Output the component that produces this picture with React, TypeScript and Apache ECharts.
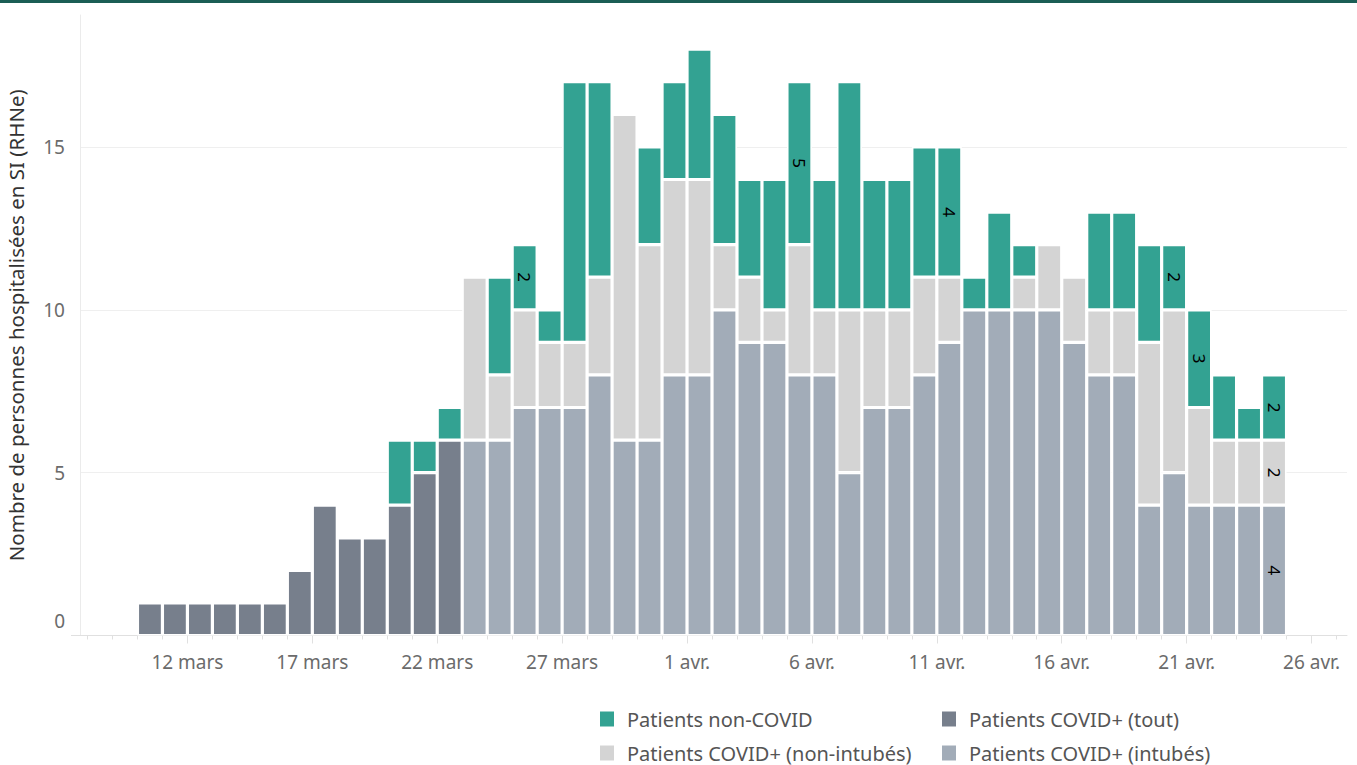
import React, { useEffect, useRef } from "react";
import * as echarts from "echarts";

// ---- Data ----
const dates = [
  "2020-03-10", "2020-03-11", "2020-03-12", "2020-03-13", "2020-03-14", "2020-03-15",
  "2020-03-16", "2020-03-17", "2020-03-18", "2020-03-19", "2020-03-20", "2020-03-21",
  "2020-03-22", "2020-03-23", "2020-03-24", "2020-03-25", "2020-03-26", "2020-03-27",
  "2020-03-28", "2020-03-29", "2020-03-30", "2020-03-31", "2020-04-01", "2020-04-02",
  "2020-04-03", "2020-04-04", "2020-04-05", "2020-04-06", "2020-04-07", "2020-04-08",
  "2020-04-09", "2020-04-10", "2020-04-11", "2020-04-12", "2020-04-13", "2020-04-14",
  "2020-04-15", "2020-04-16", "2020-04-17", "2020-04-18", "2020-04-19", "2020-04-20",
  "2020-04-21", "2020-04-22", "2020-04-23", "2020-04-24",
];

const covidTout = [
  1, 1, 1, 1, 1, 1, 2, 4, 3, 3, 4, 5, 6,
  0, 0, 0, 0, 0, 0, 0, 0, 0, 0, 0, 0, 0, 0, 0, 0, 0, 0, 0, 0,
  0, 0, 0, 0, 0, 0, 0, 0, 0, 0, 0, 0, 0,
];

const covidIntubes = [
  0, 0, 0, 0, 0, 0, 0, 0, 0, 0, 0, 0, 0,
  6, 6, 7, 7, 7, 8, 6, 6, 8, 8, 10, 9, 9, 8, 8, 5, 7, 7, 8, 9,
  10, 10, 10, 10, 9, 8, 8, 4, 5, 4, 4, 4, 4,
];

const covidNonIntubes = [
  0, 0, 0, 0, 0, 0, 0, 0, 0, 0, 0, 0, 0,
  5, 2, 3, 2, 2, 3, 10, 6, 6, 6, 2, 2, 1, 4, 2, 5, 3, 3, 3, 2,
  0, 0, 1, 2, 2, 2, 2, 5, 5, 3, 2, 2, 2,
];

const nonCovid = [
  0, 0, 0, 0, 0, 0, 0, 0, 0, 0, 2, 1, 1,
  0, 3, 2, 1, 8, 6, 0, 3, 3, 4, 4, 3, 4, 5, 4, 7, 4, 4, 4, 4,
  1, 3, 1, 0, 0, 3, 3, 3, 2, 3, 2, 1, 2,
];

// bars whose value is printed
const labelledNonCovid = ["2020-03-25", "2020-04-05", "2020-04-11", "2020-04-20", "2020-04-21", "2020-04-24"];
const labelledNonIntubes = ["2020-04-24"];
const labelledIntubes = ["2020-04-24"];

const tickDates = [
  "2020-03-12", "2020-03-17", "2020-03-22", "2020-03-27", "2020-04-01",
  "2020-04-06", "2020-04-11", "2020-04-16", "2020-04-21", "2020-04-26",
];
const tickLabels = [
  "12 mars", "17 mars", "22 mars", "27 mars", "1 avr.",
  "6 avr.", "11 avr.", "16 avr.", "21 avr.", "26 avr.",
];

const seriesNames = {
  nonCovid: "Patients non-COVID",
  tout: "Patients COVID+ (tout)",
  nonInt: "Patients COVID+ (non-intubés)",
  int: "Patients COVID+ (intubés)",
};

const colors = {
  nonCovid: "#33a292",
  tout: "#777f8c",
  nonInt: "#d4d4d4",
  int: "#a2acb8",
};

// ---- helpers ----
const ORIGIN = Date.UTC(2020, 2, 2);
function dayNum(s: string): number {
  const [y, m, d] = s.split("-").map(Number);
  return Math.round((Date.UTC(y, m - 1, d) - ORIGIN) / 86400000);
}

const FONT = "'Noto Sans', sans-serif";

function buildData(values: number[], labelled: string[]) {
  return values.map((v, i) => {
    if (!v) return { value: 0, itemStyle: { opacity: 0 }, label: { show: false } };
    const item: any = { value: v };
    if (labelled.indexOf(dates[i]) >= 0) item.label = { show: true };
    return item;
  });
}

export default function App() {
  const ref = useRef<HTMLDivElement>(null);

  useEffect(() => {
    document.body.style.margin = "0";
    if (!ref.current) return;
    const chart = echarts.init(ref.current, undefined, { renderer: "svg" });

    const X_MIN = 5.7;
    const X_MAX = 56.42;
    const G_LEFT = 80;
    const G_RIGHT = 10;
    const G_TOP = 15;
    const G_BOTTOM = 129.5;
    const Y_MAX = 19.05;
    const plotW = 1357 - G_LEFT - G_RIGHT;
    const pxPerDay = plotW / (X_MAX - X_MIN);
    const firstDay = dayNum(dates[0]);
    const barGridLeft = G_LEFT + (firstDay - X_MIN) * pxPerDay;
    const barGridWidth = dates.length * pxPerDay;

    const tickVals = tickDates.map(dayNum);
    const allDayTicks: number[] = [];
    for (let d = Math.ceil(X_MIN); d <= Math.floor(X_MAX); d++) allDayTicks.push(d);

    const barCommon = {
      type: "bar",
      stack: "total",
      xAxisIndex: 2,
      yAxisIndex: 1,
      barWidth: "100%",
      itemStyle: { borderColor: "#ffffff", borderWidth: 1.6 },
      label: {
        show: false,
        position: "inside",
        rotate: -90,
        color: "#000",
        fontSize: 17,
        fontFamily: FONT,
      },
      emphasis: { disabled: true },
    };

    const legendBase = {
      orient: "vertical",
      padding: 0,
      itemWidth: 16,
      itemHeight: 17,
      icon: "rect",
      selectedMode: false,
      textStyle: { color: "#555555", fontSize: 20, fontFamily: FONT, lineHeight: 22, padding: [0, 0, 0, 7] },
    };

    chart.setOption({
      animation: false,
      backgroundColor: "#ffffff",
      textStyle: { fontFamily: FONT },
      grid: [
        { left: G_LEFT, right: G_RIGHT, top: G_TOP, bottom: G_BOTTOM, containLabel: false, outerBoundsMode: "none" },
        { left: barGridLeft, width: barGridWidth, top: G_TOP, bottom: G_BOTTOM, containLabel: false, outerBoundsMode: "none" },
      ],
      graphic: [
        { type: "rect", left: 0, top: 0, shape: { width: 1357, height: 3 }, style: { fill: "#1b5e55" } },
        { type: "line", shape: { x1: 71, y1: 635.5, x2: 80, y2: 635.5 }, style: { stroke: "#e0e0e0", lineWidth: 1 } },
      ],
      xAxis: [
        {
          type: "value",
          gridIndex: 0,
          min: X_MIN,
          max: X_MAX,
          position: "bottom",
          splitLine: { show: false },
          axisLine: { show: true, lineStyle: { color: "#e0e0e0" } },
          axisTick: { show: true, customValues: allDayTicks, length: 4, lineStyle: { color: "#e0e0e0" } },
          axisLabel: {
            customValues: tickVals,
            formatter: (v: number) => {
              const idx = tickVals.indexOf(Math.round(v));
              return idx >= 0 ? tickLabels[idx] : "";
            },
            color: "#6b6b6b",
            fontSize: 19,
            fontFamily: FONT,
            margin: 17,
          },
        },
        {
          type: "value",
          gridIndex: 0,
          min: X_MIN,
          max: X_MAX,
          position: "bottom",
          splitLine: { show: false },
          axisLine: { show: false },
          axisTick: { show: true, customValues: tickVals, length: 8, lineStyle: { color: "#e0e0e0" } },
          axisLabel: { show: false },
        },
        {
          type: "category",
          gridIndex: 1,
          data: dates,
          boundaryGap: true,
          show: false,
        },
      ],
      yAxis: [
        {
          type: "value",
          gridIndex: 0,
          min: 0,
          max: Y_MAX,
          interval: 5,
          name: "Nombre de personnes hospitalisées en SI (RHNe)",
          nameLocation: "middle",
          nameGap: 54,
          nameTextStyle: { color: "#333333", fontSize: 20.5, fontFamily: FONT },
          axisLine: { show: true, lineStyle: { color: "#ebebeb" } },
          axisTick: { show: false },
          splitLine: { show: true, showMinLine: false, showMaxLine: false, lineStyle: { color: "#efefef" } },
          axisLabel: {
            color: "#6b6b6b",
            fontSize: 19,
            fontFamily: FONT,
            margin: 15,
            showMaxLabel: false,
            verticalAlignMinLabel: "bottom",
            formatter: (v: number) => (v === 0 ? "{z|0}" : String(v)),
            rich: { z: { color: "#6b6b6b", fontSize: 19, fontFamily: FONT, padding: [0, 0, 5, 0] } },
          },
        },
        {
          type: "value",
          gridIndex: 1,
          min: 0,
          max: Y_MAX,
          show: false,
          splitLine: { show: false },
        },
      ],
      legend: [
        { ...legendBase, left: 598, top: 708, data: [seriesNames.nonCovid] },
        { ...legendBase, left: 598, top: 742, data: [seriesNames.nonInt] },
        { ...legendBase, left: 940, top: 708, data: [seriesNames.tout] },
        { ...legendBase, left: 940, top: 742, data: [seriesNames.int] },
      ],
      series: [
        { ...barCommon, name: seriesNames.tout, color: colors.tout, data: buildData(covidTout, []) },
        { ...barCommon, name: seriesNames.int, color: colors.int, data: buildData(covidIntubes, labelledIntubes) },
        { ...barCommon, name: seriesNames.nonInt, color: colors.nonInt, data: buildData(covidNonIntubes, labelledNonIntubes) },
        { ...barCommon, name: seriesNames.nonCovid, color: colors.nonCovid, data: buildData(nonCovid, labelledNonCovid) },
      ],
    });

    return () => chart.dispose();
  }, []);

  return <div ref={ref} style={{ width: 1357, height: 765 }} />;
}
